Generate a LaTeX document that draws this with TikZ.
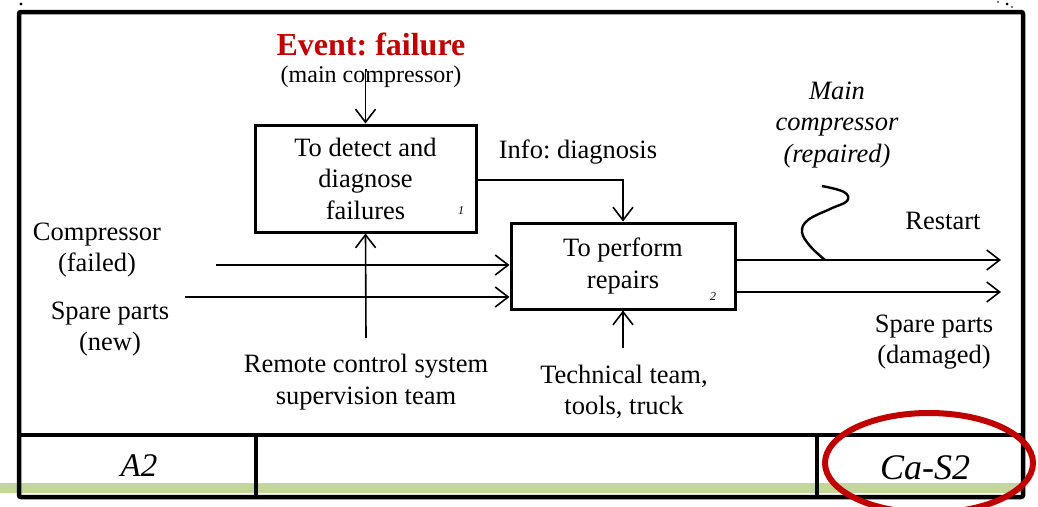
\documentclass[tikz,border=0pt]{standalone}
\usepackage{fontspec}
\setmainfont{Liberation Serif}
\usetikzlibrary{arrows.meta}
\definecolor{darkred}{RGB}{192,0,0}
\definecolor{band}{RGB}{196,215,155}
\frenchspacing
\begin{document}
\begin{tikzpicture}[x=1pt,y=-1pt,
  txt/.style={font=\fontsize{26.5}{31.5}\selectfont, align=center, inner sep=0pt},
  itxt/.style={txt, font=\fontsize{26.5}{31.5}\selectfont\itshape},
  procbox/.style={draw, line width=3pt, txt, minimum width=221pt},
  flow/.style={line width=1.6pt, -{Straight Barb[length=13pt,width=20pt,line width=1.6pt]}},
  frame/.style={line width=4.5pt},
  tag/.style={font=\fontsize{12}{12}\selectfont\itshape, inner sep=0pt}]
\useasboundingbox (0,0) rectangle (1038,506);

% background band
\fill[band] (0,483) rectangle (1022,493);

% outer sheet frame and title strip
\draw[frame, rounded corners=2pt] (19,12) rectangle (1023,497);
\draw[frame] (19,435) -- (1023,435);
\draw[frame] (256,435) -- (256,497);
\draw[frame] (817,435) -- (817,497);

% corner marks
\fill (21,4) circle (1.6);
\fill (998,2) circle (0.9);
\fill (1007,4) circle (1.5);
\fill (1012,7) circle (0.9);

% activity boxes
\node[procbox, minimum height=107pt] (b1) at (365.5,178.5) {To detect and\\diagnose\\failures};
\node[procbox, minimum height=86pt, minimum width=224pt] (b2) at (623,266) {To perform\\repairs};
\node[tag] (n1) at (461,211) {1};
\node[tag] (n2) at (713,297) {2};

% labels
\node[font=\fontsize{32}{36}\selectfont\bfseries, text=darkred, inner sep=0pt] (ev) at (371,44) {Event: failure};
\node[font=\fontsize{24}{28}\selectfont, inner sep=0pt] (evsub) at (371,77) {(main compressor)};
\node[txt] (comp) at (97,250) {Compressor\\(failed)};
\node[txt] (spare) at (110,329) {Spare parts\\(new)};
\node[txt] (remote) at (366,382) {Remote control system\\supervision team};
\node[txt] (tech) at (624,392) {Technical team,\\tools, truck};
\node[txt] (info) at (578,152) {Info: diagnosis};
\node[itxt] (mc) at (837,125) {Main\\compressor\\(repaired)};
\node[txt] (restart) at (943,221) {Restart};
\node[txt] (spd) at (934,342) {Spare parts\\(damaged)};
\node[font=\fontsize{33}{36}\selectfont\itshape, inner sep=0pt] (a2) at (139,466) {A2};
\node[font=\fontsize{36}{40}\selectfont\itshape, inner sep=0pt] (cas) at (925,468) {Ca-S2};

% connector end points
\coordinate (evtop) at (366,70);
\coordinate (cin) at (216,265);
\coordinate (sin) at (185,297);
\coordinate (rmb) at (366,338);
\coordinate (tcb) at (623,348);
\coordinate (infc) at (623,180);
\coordinate (rso) at (1001,260);
\coordinate (spo) at (1001,292);

% flows
\draw[flow] (evtop) -- (b1.north |- evtop) -- (b1.north);
\draw[flow] (b1.east |- infc) -- (infc) -- (b2.north);
\draw[flow] (cin) -- (cin -| b2.west);
\draw[flow] (sin) -- (sin -| b2.west);
\draw[flow] (rmb) -- (b1.south);
\draw[flow] (tcb) -- (b2.south);
\draw[flow] (b2.east |- rso) -- (rso);
\draw[flow] (b2.east |- spo) -- (spo);

% squiggle marking the repaired compressor on the output
\coordinate (sq) at (825,260);
\draw[line width=2.4pt] plot[smooth, tension=0.65] coordinates {(sq) (810,246) (802,232) (808,220) (830,209) (847,201) (844,192) (822,186)};

% highlight ring
\coordinate (ringc) at (929,463);
\draw[darkred, line width=6pt] (ringc) ellipse [x radius=104, y radius=50];
\end{tikzpicture}
\end{document}
